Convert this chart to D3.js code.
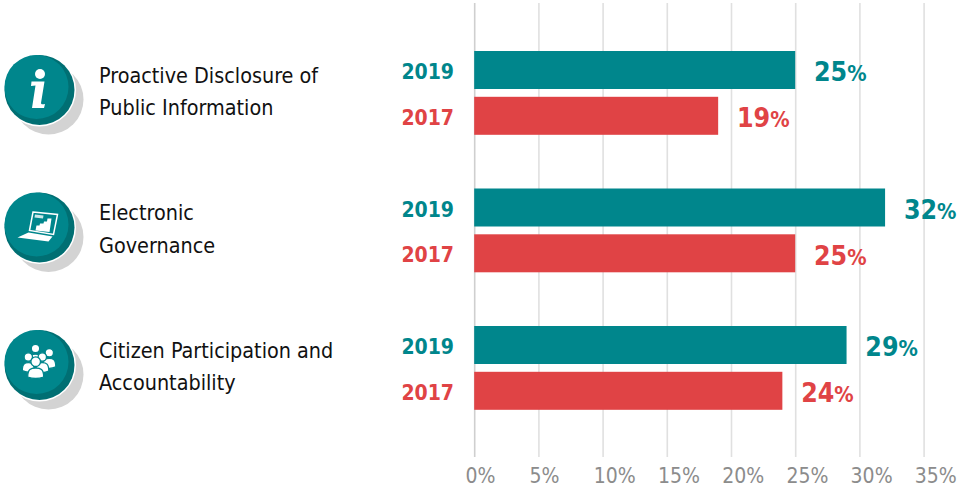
<!DOCTYPE html>
<html>
<head>
<meta charset="utf-8">
<script src="https://cdn.jsdelivr.net/npm/d3@7"></script>
<style>
html,body{margin:0;padding:0;background:#fff;}
svg{display:block;font-family:"DejaVu Sans Condensed","DejaVu Sans",sans-serif;}
</style>
</head>
<body>
<svg id="chart" width="966" height="489"></svg>
<script>
const categories = [
  ["Proactive Disclosure of", "Public Information"],
  ["Electronic", "Governance"],
  ["Citizen Participation and", "Accountability"]
];
const iconKinds = ["info", "laptop", "people"];
const years = ["2019", "2017"];
const values2019 = [25, 32, 29];
const values2017 = [19, 25, 24];
const tickValues = [0, 5, 10, 15, 20, 25, 30, 35];

const TEAL = "#00868c", RED = "#e04345", DARK = "#006f73";
const FONT = '"DejaVu Sans Condensed","DejaVu Sans",sans-serif';
const svg = d3.select("#chart");

const x = d3.scaleLinear().domain([0, 35]).range([474.2, 923.6]);
const groupY = d3.scaleBand().domain(d3.range(categories.length)).range([25.5, 438]).padding(0);
const BAR_H = 38;

// grid and axis labels
const axis = d3.axisBottom(x).tickValues(tickValues).tickSize(0).tickPadding(0)
  .tickFormat(d => d + "%");
const axisG = svg.append("g").attr("transform", "translate(0,457)").call(axis);
axisG.select(".domain").remove();
axisG.selectAll(".tick text")
  .attr("x", -9.3).attr("y", 26).attr("dy", 0)
  .attr("text-anchor", "start")
  .attr("font-size", 21).attr("font-family", FONT)
  .attr("fill", "#8c8c8c");
axisG.selectAll(".tick").append("line")
  .attr("y1", -454).attr("y2", 0)
  .attr("stroke", (d) => d === 0 ? "#cfcfcf" : "#e0e0e0").attr("stroke-width", 1.6);

const groups = svg.selectAll("g.group").data(categories).join("g")
  .attr("class", "group")
  .attr("transform", (d, i) => `translate(0,${groupY(i)})`);

// category labels
groups.each(function (lines) {
  const g = d3.select(this);
  lines.forEach((t, j) => g.append("text")
    .attr("x", 99).attr("y", 57 + j * 32.5)
    .attr("font-size", 21.4).attr("fill", "#111").text(t));
});

// bars, year labels and values
const rows = [
  { year: "2019", vals: values2019, color: TEAL },
  { year: "2017", vals: values2017, color: RED }
];
rows.forEach((r, ri) => {
  const top = ri === 0 ? 25.5 : 71.3;
  groups.append("rect")
    .attr("x", x(0)).attr("y", top)
    .attr("width", (d, i) => x(r.vals[i]) - x(0)).attr("height", BAR_H)
    .attr("fill", r.color);
  groups.append("text")
    .attr("x", 454).attr("y", top + 28).attr("text-anchor", "end")
    .attr("font-size", 21).attr("font-weight", 700).attr("fill", r.color)
    .text(r.year);
  const label = groups.append("text")
    .attr("x", (d, i) => x(r.vals[i]) + 18.8).attr("y", top + 30.3)
    .attr("font-weight", 700).attr("fill", r.color);
  label.append("tspan").attr("font-size", 26.5).text((d, i) => r.vals[i]);
  label.append("tspan").attr("font-size", 21.5).text("%");
});

// round badges
const badge = groups.append("g").attr("transform", "translate(39.5,64.5)");
badge.append("circle").attr("cx", 9).attr("cy", 9.5).attr("r", 35).attr("fill", "#d3d3d3");
badge.append("circle").attr("r", 36.5).attr("fill", "#fff");
badge.append("circle").attr("r", 35).attr("fill", DARK);
badge.append("circle").attr("cx", -3).attr("cy", -3).attr("r", 32).attr("fill", TEAL);

badge.each(function (d, i) {
  const g = d3.select(this), kind = iconKinds[i];
  if (kind === "info") {
    g.append("circle").attr("cx", 0.5).attr("cy", -16).attr("r", 5).attr("fill", "#fff");
    g.append("path").attr("fill", "#fff")
      .attr("d", "M-8,-8.5 L5,-8.5 L1.5,13 C1.5,14.5 3,14.5 5.5,14 L4.5,18 L-7.5,18 L-4,-4.5 L-8.5,-4 Z");
  } else if (kind === "laptop") {
    const s = g.append("g");
    s.append("path").attr("fill", "none").attr("stroke", "#fff").attr("stroke-width", 1.5)
      .attr("d", "M-6.5,-15.5 L18,-13 L14,7 L-10,3 Z");
    s.append("path").attr("fill", "#fff").attr("opacity", 0.8)
      .attr("d", "M-4.5,-13 L4,-12 L3.5,-9 L-5,-10 Z");
    s.append("path").attr("fill", "#fff")
      .attr("d", "M-4,3 L-3,-2 L0,-2 L0.5,-4 L4,-4 L4.5,-6 L7.5,-6 L8,-9 L12,-9 L10,4.5 Z");
    s.append("path").attr("fill", "#fff")
      .attr("d", "M-11,5 L13,9 L9,14 L-22,10 Z");
  } else {
    // people, drawn back to front so each figure is outlined against the one behind it
    const person = (cx, cy, r, w, h) => {
      const top = cy + r + 1.5, bottom = top + h;
      g.append("path").attr("fill", "#fff").attr("stroke", TEAL).attr("stroke-width", 1.3)
        .attr("d", `M${cx - w},${bottom - 1.5}
          C${cx - w},${top + 1} ${cx - w * 0.6},${top} ${cx},${top}
          C${cx + w * 0.6},${top} ${cx + w},${top + 1} ${cx + w},${bottom - 1.5}
          Q${cx},${bottom + 1.5} ${cx - w},${bottom - 1.5} Z`);
      g.append("circle").attr("cx", cx).attr("cy", cy).attr("r", r)
        .attr("fill", "#fff").attr("stroke", TEAL).attr("stroke-width", 1.3);
    };
    person(-4, -16.5, 4.2, 6, 9);
    person(9.8, -12.3, 4.2, 6.5, 10);
    person(-11.2, -8, 4.2, 6, 9.5);
    person(2.8, -8, 4.2, 6.5, 10);
    person(-3.8, -3.3, 4.8, 8, 10.5);
  }
});
</script>
</body>
</html>
